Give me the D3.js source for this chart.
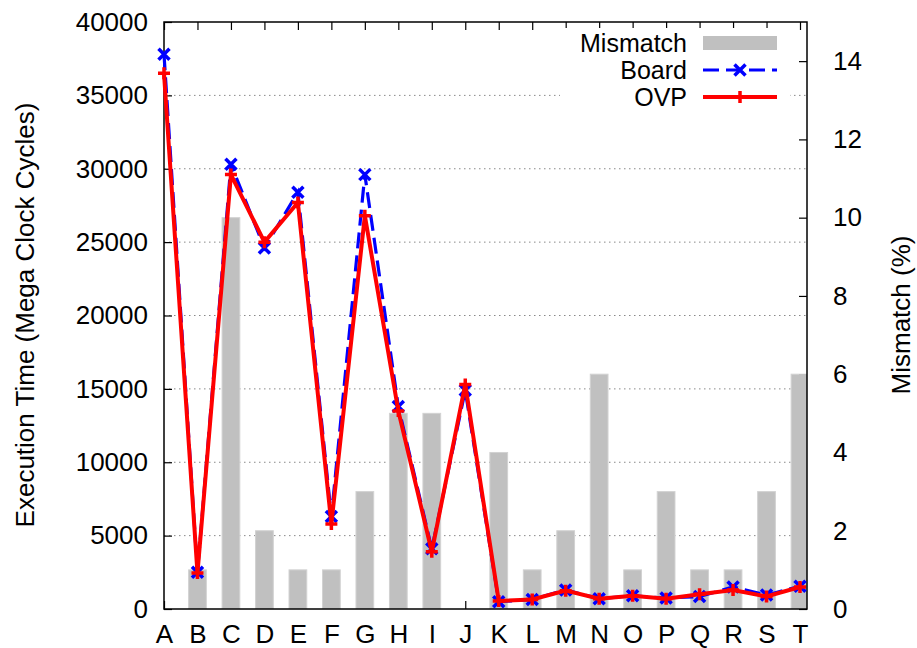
<!DOCTYPE html>
<html lang="en">
<head>
<meta charset="UTF-8">
<title>Execution Time vs Mismatch</title>
<script src="https://cdn.jsdelivr.net/npm/d3@7/dist/d3.min.js"></script>
<style>
  body { margin: 0; background: #fff; }
  text { font-family: "Liberation Sans", Arial, sans-serif; font-size: 26px; fill: #000; }
  .axis path { display: none; }
  .axis line { stroke: #000; stroke-width: 1.2; }
  .grid line { stroke: #888; stroke-width: 1; stroke-dasharray: 1.5,3.5; }
</style>
</head>
<body>
<script>
// data
const categories = ['A','B','C','D','E','F','G','H','I','J','K','L','M','N','O','P','Q','R','S','T'];
const mismatch = [0, 1, 10, 2, 1, 1, 3, 5, 5, 0, 4, 1, 2, 6, 1, 3, 1, 1, 3, 6];
const board = [37800, 2500, 30300, 24600, 28400, 6300, 29600, 13800, 4100, 14900,
               500, 650, 1300, 700, 900, 750, 850, 1500, 950, 1550];
const ovp = [36500, 2450, 29600, 25000, 27700, 5800, 26800, 13500, 3900, 15300,
             550, 650, 1250, 700, 900, 700, 1000, 1300, 850, 1500];
const yTicks = [0, 5000, 10000, 15000, 20000, 25000, 30000, 35000, 40000];
const y2Ticks = [0, 2, 4, 6, 8, 10, 12, 14];

const width = 917, height = 648;
const pLeft = 164, pRight = 807, pTop = 22, pBottom = 609;

const svg = d3.select('body').append('svg')
  .attr('width', width)
  .attr('height', height);

const x = d3.scalePoint().domain(categories).range([pLeft, 800]);
const y = d3.scaleLinear().domain([0, 40000]).range([pBottom, pTop]);
const y2 = d3.scaleLinear().domain([0, 15]).range([pBottom, pTop]);
const barW = x.step() * 0.53;

svg.append('defs').append('clipPath').attr('id', 'plot')
  .append('rect')
  .attr('x', pLeft).attr('y', pTop)
  .attr('width', pRight - pLeft).attr('height', pBottom - pTop);

// grid
svg.append('g').attr('class', 'grid')
  .selectAll('line')
  .data(yTicks.filter(d => d > 0 && d < 40000))
  .enter().append('line')
  .attr('x1', pLeft).attr('x2', pRight)
  .attr('y1', d => y(d)).attr('y2', d => y(d));

// axes (ticks point inward)
svg.append('g').attr('class', 'axis')
  .attr('transform', `translate(${pLeft},0)`)
  .call(d3.axisLeft(y).tickValues(yTicks).tickFormat(d3.format('d')).tickSize(-8).tickPadding(16));

svg.append('g').attr('class', 'axis')
  .attr('transform', `translate(${pRight},0)`)
  .call(d3.axisRight(y2).tickValues(y2Ticks).tickFormat(d3.format('d')).tickSize(-8).tickPadding(26));

svg.append('g').attr('class', 'axis')
  .attr('transform', `translate(0,${pBottom})`)
  .call(d3.axisBottom(x).tickSize(-8).tickPadding(16));

svg.append('g').attr('class', 'axis')
  .attr('transform', `translate(0,${pTop})`)
  .call(d3.axisTop(x).tickSize(-8).tickFormat(''));

svg.selectAll('.axis').attr('font-size', null).attr('font-family', null);

// bars
svg.append('g').attr('clip-path', 'url(#plot)')
  .selectAll('rect')
  .data(mismatch)
  .enter().append('rect')
  .attr('x', (d, i) => x(categories[i]) - barW / 2)
  .attr('y', d => y2(d))
  .attr('width', barW)
  .attr('height', d => y2(0) - y2(d))
  .attr('fill', '#c0c0c0')
  .attr('stroke', '#d2d2d2')
  .attr('stroke-width', 1);

// border
svg.append('rect')
  .attr('x', pLeft).attr('y', pTop)
  .attr('width', pRight - pLeft).attr('height', pBottom - pTop)
  .attr('fill', 'none').attr('stroke', '#000').attr('stroke-width', 1.5);

// legend box
svg.append('rect')
  .attr('x', 560).attr('y', 28).attr('width', 230).attr('height', 82)
  .attr('fill', '#fff');

const line = d3.line()
  .x((d, i) => x(categories[i]))
  .y(d => y(d));

const crossPath = 'M-5.5,-5.5L5.5,5.5M-5.5,5.5L5.5,-5.5';
const plusPath = 'M-6,0L6,0M0,-6L0,6';

// Board
svg.append('path')
  .datum(board)
  .attr('d', line)
  .attr('fill', 'none')
  .attr('stroke', '#0000ff')
  .attr('stroke-width', 3.2)
  .attr('stroke-dasharray', '16,7');

svg.append('g').selectAll('path')
  .data(board)
  .enter().append('path')
  .attr('transform', (d, i) => `translate(${x(categories[i])},${y(d)})`)
  .attr('d', crossPath)
  .attr('stroke', '#0000ff')
  .attr('stroke-width', 3.5);

// OVP
svg.append('path')
  .datum(ovp)
  .attr('d', line)
  .attr('fill', 'none')
  .attr('stroke', '#ff0000')
  .attr('stroke-width', 4);

svg.append('g').selectAll('path')
  .data(ovp)
  .enter().append('path')
  .attr('transform', (d, i) => `translate(${x(categories[i])},${y(d)})`)
  .attr('d', plusPath)
  .attr('stroke', '#ff0000')
  .attr('stroke-width', 3.5);

// axis titles
svg.append('text')
  .attr('transform', 'translate(34,315) rotate(-90)')
  .attr('text-anchor', 'middle')
  .text('Execution Time (Mega Clock Cycles)');

svg.append('text')
  .attr('transform', 'translate(910,315) rotate(-90)')
  .attr('text-anchor', 'middle')
  .text('Mismatch (%)');

// legend
const legend = svg.append('g');
const rows = [
  { name: 'Mismatch', y: 43 },
  { name: 'Board', y: 70 },
  { name: 'OVP', y: 97 }
];
legend.selectAll('text')
  .data(rows)
  .enter().append('text')
  .attr('x', 687)
  .attr('y', d => d.y)
  .attr('dy', '0.35em')
  .attr('text-anchor', 'end')
  .style('font-size', '25px')
  .text(d => d.name);

legend.append('rect')
  .attr('x', 703).attr('y', 36).attr('width', 74).attr('height', 14)
  .attr('fill', '#c0c0c0');

legend.append('line')
  .attr('x1', 703).attr('x2', 777).attr('y1', 70).attr('y2', 70)
  .attr('stroke', '#0000ff').attr('stroke-width', 3.2)
  .attr('stroke-dasharray', '16,7');
legend.append('path')
  .attr('transform', 'translate(740,70)')
  .attr('d', crossPath)
  .attr('stroke', '#0000ff').attr('stroke-width', 3.5);

legend.append('line')
  .attr('x1', 703).attr('x2', 777).attr('y1', 97).attr('y2', 97)
  .attr('stroke', '#ff0000').attr('stroke-width', 4);
legend.append('path')
  .attr('transform', 'translate(740,97)')
  .attr('d', plusPath)
  .attr('stroke', '#ff0000').attr('stroke-width', 3.5);
</script>
</body>
</html>
